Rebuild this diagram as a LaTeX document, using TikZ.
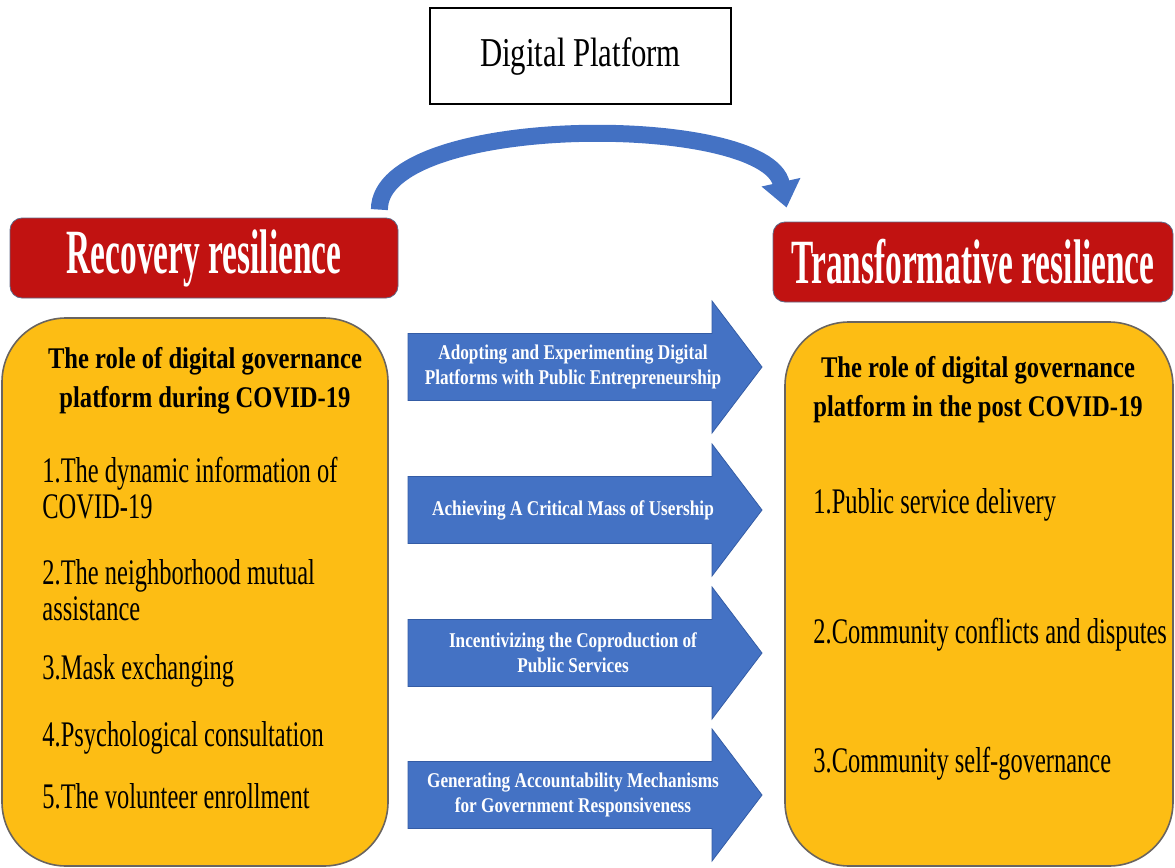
\documentclass[tikz,border=0pt]{standalone}
\usepackage{fontspec}
\setmainfont{Liberation Serif}[FakeStretch=0.68]
\newfontfamily\titlefont{Liberation Serif}[FakeStretch=0.53]
\newfontfamily\headfont{Liberation Serif}[FakeStretch=0.82]
\newfontfamily\platformfont{Liberation Serif}[FakeStretch=0.75]
\usepackage{tikz}
\usetikzlibrary{arrows.meta}
\definecolor{stagered}{RGB}{193,18,17}
\definecolor{stageline}{RGB}{95,105,135}
\definecolor{panelyellow}{RGB}{253,189,20}
\definecolor{panelline}{RGB}{105,100,95}
\definecolor{flowblue}{RGB}{68,114,196}
\definecolor{flowline}{RGB}{52,92,165}
\tikzset{
    platform/.style = {rectangle, draw=black, line width=1.2pt, minimum width=150.5pt, minimum height=48pt, font=\platformfont\fontsize{20.5}{24}\selectfont},
    stage/.style = {rectangle, rounded corners=6pt, draw=stageline, thin, fill=stagered, text=white, minimum height=40pt, font=\titlefont\bfseries\fontsize{31.5}{36}\selectfont},
    panel/.style = {rectangle, rounded corners=32pt, draw=panelline, thick, fill=panelyellow},
    panelhead/.style = {align=center, font=\headfont\bfseries\fontsize{15}{19.5}\selectfont},
    item/.style = {anchor=base west, inner sep=0pt, font=\fontsize{18}{18}\selectfont},
    flow/.style = {fill=flowblue, draw=flowline, thin},
    flowtext/.style = {align=center, text=white, font=\headfont\bfseries\fontsize{10.5}{12.5}\selectfont},
    bigarrow/.style = {line width=8.5pt, draw=flowblue, -{Triangle[width=19pt,length=13pt]}}
}

\begin{document}
\begin{tikzpicture}[x=0.5pt, y=-0.5pt]
  \useasboundingbox (0,0) rectangle (1175,868);

  \node[platform] (platform) at (580.5,56) {Digital Platform};

  \node[stage, minimum width=194pt] (recovery) at (204,258) {Recovery resilience};
  \node[stage, minimum width=200pt] (transform) at (973,262) {Transformative resilience};

  % platform shift from recovery to transformation
  \draw[bigarrow] ([xshift=-9.5pt,yshift=4pt]recovery.north east)
    .. controls +(0,-97) and +(-21,-95) .. ([xshift=7pt,yshift=7pt]transform.north west);

  % yellow panels
  \node[panel, minimum width=193pt, minimum height=274pt] (during) at (195,592) {};
  \node[panel, minimum width=194pt, minimum height=272pt] (post) at (979,594) {};

  \node[panelhead] (duringhead) at (205,381) {The role of digital governance\\platform during COVID-19};
  \node[item] (d1) at (42,482) {1.The dynamic information of};
  \node[item] (d1b) at (42,518) {COVID-19};
  \node[item] (d2) at (42,584) {2.The neighborhood mutual};
  \node[item] (d2b) at (42,620) {assistance};
  \node[item] (d3) at (42,679) {3.Mask exchanging};
  \node[item] (d4) at (42,746) {4.Psychological consultation};
  \node[item] (d5) at (42,808) {5.The volunteer enrollment};

  \node[panelhead] (posthead) at (978,390) {The role of digital governance\\platform in the post COVID-19};
  \node[item] (p1) at (813,513) {1.Public service delivery};
  \node[item] (p2) at (813,643) {2.Community conflicts and disputes};
  \node[item] (p3) at (813,772) {3.Community self-governance};

  % block arrows between the panels
  \foreach \y/\name/\txt in {
      367/adopt/{Adopting and Experimenting Digital\\Platforms with Public Entrepreneurship},
      510/usership/{Achieving A Critical Mass of Usership},
      653/coprod/{Incentivizing the Coproduction of\\Public Services},
      795/account/{Generating Accountability Mechanisms\\for Government Responsiveness}}{
    \draw[flow] (408,\y-33.5) -- (712,\y-33.5) -- (712,\y-66) -- (762,\y)
      -- (712,\y+66) -- (712,\y+33.5) -- (408,\y+33.5) -- cycle;
    \node[flowtext] (\name) at (573,\y) {\txt};
  }
\end{tikzpicture}
\end{document}
